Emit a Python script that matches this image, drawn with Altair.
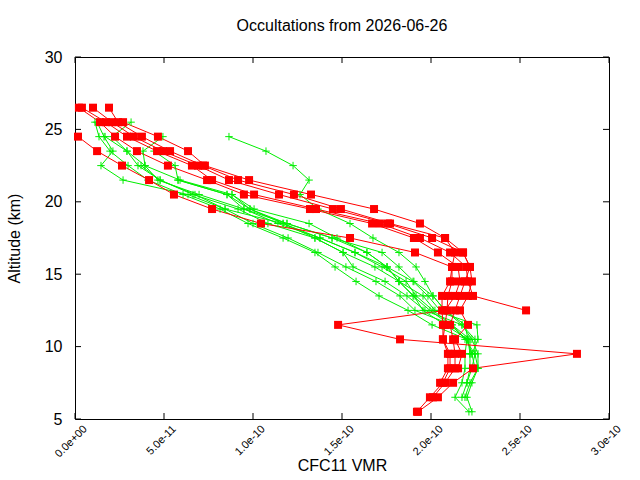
import altair as alt
import pandas as pd

# CFC11 profiles in pptv, listed from each profile's top level downwards,
# one value per 1 km level (levels at x.5 km).
red_1_top, red_1 = 24.5, [1.7, 12.4, 26.4, 41.6, 55.6, 77.0, 104.5, 154.5, 191.0, 211.8,
                          211.8, 209.5, 209.0, 207.9, 206.7, 210.7, 210.7, 206.7, 199.4, 192.1]
red_2_top, red_2 = 26.5, [2.2, 14.0, 22.5, 34.8, 52.2, 74.2, 94.9, 132.0, 166.9, 190.4, 203.9,
                          215.2, 216.3, 213.5, 207.9, 147.8, 182.6, 282.0, 223.6, 212.4, 203.9, 192.7]
red_3_top, red_3 = 26.5, [3.9, 17.4, 29.2, 46.1, 65.7, 77.0, 100.6, 135.4, 171.3, 193.8, 210.7,
                          219.7, 220.8, 223.6, 253.4]
red_4_top, red_4 = 26.5, [10.1, 20.8, 33.1, 49.4, 69.1, 86.5, 114.6, 144.9, 175.8, 200.6, 218.0,
                          221.9, 219.1, 216.3, 213.5, 210.7, 212.4, 213.5, 213.5, 207.9, 201.1]
red_5_top, red_5 = 26.5, [19.1, 24.2, 37.6, 53.4, 71.9, 91.6, 123.0, 149.4, 177.0, 207.9, 213.5,
                          211.8, 210.7, 206.2, 206.2, 206.7, 206.7, 209.5, 209.5, 205.1]
red_6_top, red_6 = 25.5, [27.0, 46.6, 63.5, 73.0, 97.8, 132.6, 168.0, 193.8, 207.9, 218.0, 221.9,
                          223.0, 220.8, 216.3, 220.8, 213.5, 217.4, 215.2]

green_1_top, green_1 = 24.5, [86.5, 107.3, 122.5, 131.5, 126.4, 136.5, 154.5, 167.4, 182.0, 191.6,
                              196.6, 201.1, 207.9, 217.4, 223.0, 226.4, 226.4, 223.0, 220.2, 223.0]
green_2_top, green_2 = 25.5, [11.2, 13.5, 19.7, 29.8, 41.0, 60.7, 81.5, 97.2, 116.9, 134.8, 146.1,
                              157.9, 170.8, 187.1, 200.6, 220.2, 219.1, 219.1, 217.4, 213.5, 221.3]
green_3_top, green_3 = 25.5, [12.4, 16.3, 21.3, 14.6, 27.0, 63.5, 84.3, 100.0, 119.7, 136.5, 152.2,
                              169.1, 182.6, 191.0, 211.8, 221.9, 221.9, 221.9, 220.2, 217.4]
green_4_top, green_4 = 25.5, [31.5, 20.8, 29.2, 35.4, 47.8, 66.3, 91.6, 108.4, 134.8, 150.6, 156.2,
                              174.2, 186.5, 196.6, 217.4, 224.7, 224.7, 223.0, 220.2]
green_5_top, green_5 = 24.5, [49.4, 38.2, 39.3, 46.6, 69.7, 94.9, 114.0, 137.6, 157.3, 175.3, 182.0,
                              195.5, 202.2, 225.8, 226.4, 223.0]
green_6_top, green_6 = 23.5, [44.4, 56.2, 57.9, 85.4, 98.3, 119.1, 144.4, 172.5, 182.0, 190.4, 201.1,
                              207.9, 219.1, 220.8]
green_7_top, green_7 = 24.5, [16.9, 29.2, 39.3, 59.0, 88.2, 100.6, 131.5, 147.2, 164.0, 175.3, 189.9,
                              198.3, 205.1]
green_8_top, green_8 = 22.5, [37.1, 47.8, 67.4, 84.3, 116.9, 134.8, 150.6, 168.5, 182.0, 189.9, 199.4,
                              210.7, 220.2, 223.0, 224.7]
green_9_top, green_9 = 21.5, [57.9, 85.4, 94.9, 119.1, 144.4, 164.0, 175.3, 182.0, 190.4, 195.5, 207.9,
                              220.8, 221.9]
green_10_top, green_10 = 20.5, [88.2, 98.3, 116.9, 137.6, 157.3, 172.5, 186.0, 191.6, 201.1, 211.8,
                                219.1, 224.7, 226.4, 221.9, 219.1]

red_profiles = [(red_1_top, red_1), (red_2_top, red_2), (red_3_top, red_3),
                (red_4_top, red_4), (red_5_top, red_5), (red_6_top, red_6)]
green_profiles = [(green_1_top, green_1), (green_2_top, green_2), (green_3_top, green_3),
                  (green_4_top, green_4), (green_5_top, green_5), (green_6_top, green_6),
                  (green_7_top, green_7), (green_8_top, green_8), (green_9_top, green_9),
                  (green_10_top, green_10)]

x_ticks = [0.0, 5e-11, 1e-10, 1.5e-10, 2e-10, 2.5e-10, 3e-10]
y_ticks = [5, 10, 15, 20, 25, 30]

RED = "#ff0000"
GREEN = "#00ee00"
W, H = 534, 362
TICK = 6

rows = []
for group, profiles in (("red", red_profiles), ("green", green_profiles)):
    for k, (top, values) in enumerate(profiles):
        for i, v in enumerate(values):
            rows.append({"group": group, "profile": f"{group}{k}",
                         "alt": top - i, "vmr": v * 1e-12})
df = pd.DataFrame(rows)

x_axis = alt.Axis(
    values=x_ticks,
    labelExpr="datum.value == 0 ? '0.0e+00' : format(datum.value, '.1e')",
    labelAngle=315, labelAlign="right", labelBaseline="middle",
    labelFontSize=11, labelPadding=8, labelOffset=10, labelColor="black",
    labelOverlap=False, labelFlush=False,
    ticks=False, tickSize=0, domain=False, grid=False,
    title="CFC11 VMR", titleFontSize=16, titleFontWeight="normal", titleColor="black",
    titleX=W / 2, titleY=46, titleBaseline="middle", titleAlign="center",
)
y_axis = alt.Axis(
    values=y_ticks, format="d",
    labelFontSize=16, labelPadding=13, labelColor="black",
    ticks=False, tickSize=0, domain=False, grid=False,
    title="Altitude (km)", titleFontSize=16, titleFontWeight="normal", titleColor="black",
    titleX=-61, titleY=H / 2, titleAngle=270, titleBaseline="middle", titleAlign="center",
)

x_enc = alt.X("vmr:Q", scale=alt.Scale(domain=[0, 3e-10], nice=False, zero=False), axis=x_axis)
y_enc = alt.Y("alt:Q", scale=alt.Scale(domain=[5, 30], nice=False, zero=False), axis=y_axis)
order = alt.Order("alt:Q", sort="descending")

base = alt.Chart(df)
red = base.transform_filter(alt.datum.group == "red")
green = base.transform_filter(alt.datum.group == "green")

green_lines = green.mark_line(color=GREEN, strokeWidth=1).encode(
    x=x_enc, y=y_enc, detail="profile:N", order=order)
green_pts = green.mark_point(shape="M-1,0H1M0,-1V1", filled=False, color=GREEN,
                             strokeWidth=1, size=56, opacity=1).encode(x=x_enc, y=y_enc)
red_lines = red.mark_line(color=RED, strokeWidth=1).encode(
    x=x_enc, y=y_enc, detail="profile:N", order=order)
red_pts = red.mark_point(shape="square", filled=True, color=RED, size=64,
                         opacity=1).encode(x=x_enc, y=y_enc)

# inward tick marks on all four sides of the frame
xt = alt.Chart(pd.DataFrame({"vmr": x_ticks}))
yt = alt.Chart(pd.DataFrame({"alt": y_ticks}))
ticks = [
    xt.mark_rule(color="black", strokeWidth=1).encode(x=x_enc, y=alt.value(H), y2=alt.value(H - TICK)),
    xt.mark_rule(color="black", strokeWidth=1).encode(x=x_enc, y=alt.value(0), y2=alt.value(TICK)),
    yt.mark_rule(color="black", strokeWidth=1).encode(y=y_enc, x=alt.value(0), x2=alt.value(TICK)),
    yt.mark_rule(color="black", strokeWidth=1).encode(y=y_enc, x=alt.value(W), x2=alt.value(W - TICK)),
]

chart = alt.layer(
    green_lines, red_lines, green_pts, red_pts, *ticks
).properties(
    width=W, height=H,
    autosize="none",
    padding={"left": 75, "top": 57, "right": 31, "bottom": 61},
    title=alt.TitleParams("Occultations from 2026-06-26", fontSize=16, fontWeight="normal",
                          color="black", anchor="middle", baseline="alphabetic", offset=2),
).configure(
    font="Liberation Sans", background="white",
).configure_view(
    stroke="black", strokeWidth=1,
)

chart.save("out.html", embed_options={"renderer": "svg", "actions": False})
